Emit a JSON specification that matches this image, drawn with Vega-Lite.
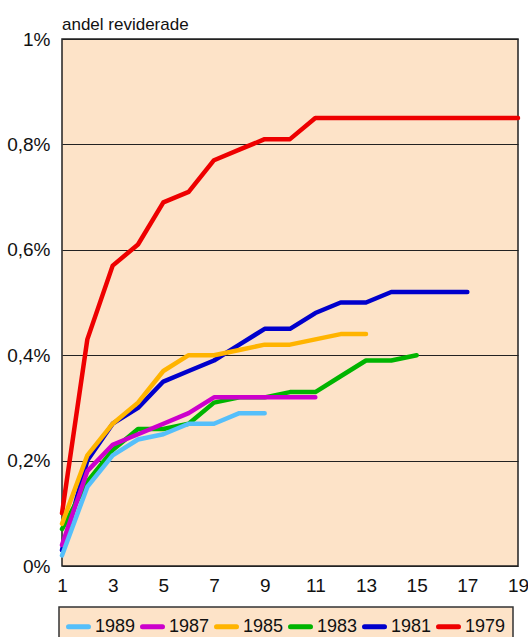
{
  "$schema": "https://vega.github.io/schema/vega-lite/v6.json",
  "width": 456,
  "height": 527,
  "autosize": {"type": "none"},
  "padding": {"left": 62, "top": 39, "right": 10, "bottom": 71},
  "background": "#ffffff",
  "title": {
    "text": "andel reviderade",
    "anchor": "start",
    "frame": "group",
    "baseline": "alphabetic",
    "offset": 10,
    "dy": 27,
    "fontSize": 17,
    "fontWeight": "normal",
    "font": "Liberation Sans, Arial, sans-serif",
    "color": "#111"
  },
  "config": {
    "view": {"fill": "#FDE3C8", "stroke": "#222", "strokeWidth": 1.5},
    "font": "Liberation Sans, Arial, sans-serif"
  },
  "data": {
    "values": [
      {"year": "1979", "t": 1, "v": 0.10}, {"year": "1979", "t": 2, "v": 0.43}, {"year": "1979", "t": 3, "v": 0.57}, {"year": "1979", "t": 4, "v": 0.61}, {"year": "1979", "t": 5, "v": 0.69}, {"year": "1979", "t": 6, "v": 0.71}, {"year": "1979", "t": 7, "v": 0.77}, {"year": "1979", "t": 8, "v": 0.79}, {"year": "1979", "t": 9, "v": 0.81}, {"year": "1979", "t": 10, "v": 0.81}, {"year": "1979", "t": 11, "v": 0.85}, {"year": "1979", "t": 12, "v": 0.85}, {"year": "1979", "t": 13, "v": 0.85}, {"year": "1979", "t": 14, "v": 0.85}, {"year": "1979", "t": 15, "v": 0.85}, {"year": "1979", "t": 16, "v": 0.85}, {"year": "1979", "t": 17, "v": 0.85}, {"year": "1979", "t": 18, "v": 0.85}, {"year": "1979", "t": 19, "v": 0.85},
      {"year": "1981", "t": 1, "v": 0.03}, {"year": "1981", "t": 2, "v": 0.20}, {"year": "1981", "t": 3, "v": 0.27}, {"year": "1981", "t": 4, "v": 0.30}, {"year": "1981", "t": 5, "v": 0.35}, {"year": "1981", "t": 6, "v": 0.37}, {"year": "1981", "t": 7, "v": 0.39}, {"year": "1981", "t": 8, "v": 0.42}, {"year": "1981", "t": 9, "v": 0.45}, {"year": "1981", "t": 10, "v": 0.45}, {"year": "1981", "t": 11, "v": 0.48}, {"year": "1981", "t": 12, "v": 0.50}, {"year": "1981", "t": 13, "v": 0.50}, {"year": "1981", "t": 14, "v": 0.52}, {"year": "1981", "t": 15, "v": 0.52}, {"year": "1981", "t": 16, "v": 0.52}, {"year": "1981", "t": 17, "v": 0.52},
      {"year": "1983", "t": 1, "v": 0.07}, {"year": "1983", "t": 2, "v": 0.16}, {"year": "1983", "t": 3, "v": 0.22}, {"year": "1983", "t": 4, "v": 0.26}, {"year": "1983", "t": 5, "v": 0.26}, {"year": "1983", "t": 6, "v": 0.27}, {"year": "1983", "t": 7, "v": 0.31}, {"year": "1983", "t": 8, "v": 0.32}, {"year": "1983", "t": 9, "v": 0.32}, {"year": "1983", "t": 10, "v": 0.33}, {"year": "1983", "t": 11, "v": 0.33}, {"year": "1983", "t": 12, "v": 0.36}, {"year": "1983", "t": 13, "v": 0.39}, {"year": "1983", "t": 14, "v": 0.39}, {"year": "1983", "t": 15, "v": 0.40},
      {"year": "1985", "t": 1, "v": 0.08}, {"year": "1985", "t": 2, "v": 0.21}, {"year": "1985", "t": 3, "v": 0.27}, {"year": "1985", "t": 4, "v": 0.31}, {"year": "1985", "t": 5, "v": 0.37}, {"year": "1985", "t": 6, "v": 0.40}, {"year": "1985", "t": 7, "v": 0.40}, {"year": "1985", "t": 8, "v": 0.41}, {"year": "1985", "t": 9, "v": 0.42}, {"year": "1985", "t": 10, "v": 0.42}, {"year": "1985", "t": 11, "v": 0.43}, {"year": "1985", "t": 12, "v": 0.44}, {"year": "1985", "t": 13, "v": 0.44},
      {"year": "1987", "t": 1, "v": 0.04}, {"year": "1987", "t": 2, "v": 0.18}, {"year": "1987", "t": 3, "v": 0.23}, {"year": "1987", "t": 4, "v": 0.25}, {"year": "1987", "t": 5, "v": 0.27}, {"year": "1987", "t": 6, "v": 0.29}, {"year": "1987", "t": 7, "v": 0.32}, {"year": "1987", "t": 8, "v": 0.32}, {"year": "1987", "t": 9, "v": 0.32}, {"year": "1987", "t": 10, "v": 0.32}, {"year": "1987", "t": 11, "v": 0.32},
      {"year": "1989", "t": 1, "v": 0.02}, {"year": "1989", "t": 2, "v": 0.15}, {"year": "1989", "t": 3, "v": 0.21}, {"year": "1989", "t": 4, "v": 0.24}, {"year": "1989", "t": 5, "v": 0.25}, {"year": "1989", "t": 6, "v": 0.27}, {"year": "1989", "t": 7, "v": 0.27}, {"year": "1989", "t": 8, "v": 0.29}, {"year": "1989", "t": 9, "v": 0.29}
    ]
  },
  "mark": {"type": "line", "strokeWidth": 4.5, "strokeCap": "round", "strokeJoin": "round"},
  "encoding": {
    "x": {
      "field": "t",
      "type": "quantitative",
      "scale": {"domain": [1, 19], "nice": false, "zero": false},
      "axis": {
        "values": [1, 3, 5, 7, 9, 11, 13, 15, 17, 19],
        "title": null,
        "grid": false,
        "domain": false,
        "ticks": false,
        "labelPadding": 10,
        "labelFontSize": 19,
        "labelColor": "#111",
        "labelFlush": false
      }
    },
    "y": {
      "field": "v",
      "type": "quantitative",
      "scale": {"domain": [0, 1], "nice": false},
      "axis": {
        "values": [0, 0.2, 0.4, 0.6, 0.8, 1],
        "title": null,
        "grid": true,
        "gridColor": "#222",
        "gridWidth": 1,
        "gridOpacity": 1,
        "domain": false,
        "ticks": false,
        "labelPadding": 12,
        "labelFontSize": 19,
        "labelColor": "#111",
        "labelExpr": "datum.value == 0 ? '0%' : datum.value == 1 ? '1%' : replace(format(datum.value, '.1f'), '.', ',') + '%'"
      }
    },
    "color": {
      "field": "year",
      "type": "nominal",
      "scale": {
        "domain": ["1989", "1987", "1985", "1983", "1981", "1979"],
        "range": ["#55BFFA", "#CC00CC", "#FFB400", "#00B400", "#0000CC", "#EE0000"]
      },
      "legend": {
        "title": null,
        "orient": "none",
        "legendX": -3,
        "legendY": 568,
        "direction": "horizontal",
        "symbolType": "stroke",
        "symbolSize": 400,
        "symbolStrokeWidth": 5,
        "labelFontSize": 18,
        "labelColor": "#111",
        "labelOffset": 4,
        "columnPadding": -4,
        "padding": 7,
        "fillColor": "#FDE3C8",
        "strokeColor": "#333",
        "encode": {
          "symbols": {"update": {"strokeCap": {"value": "round"}}},
          "legend": {"update": {"strokeWidth": {"value": 1.5}}}
        }
      }
    }
  }
}
